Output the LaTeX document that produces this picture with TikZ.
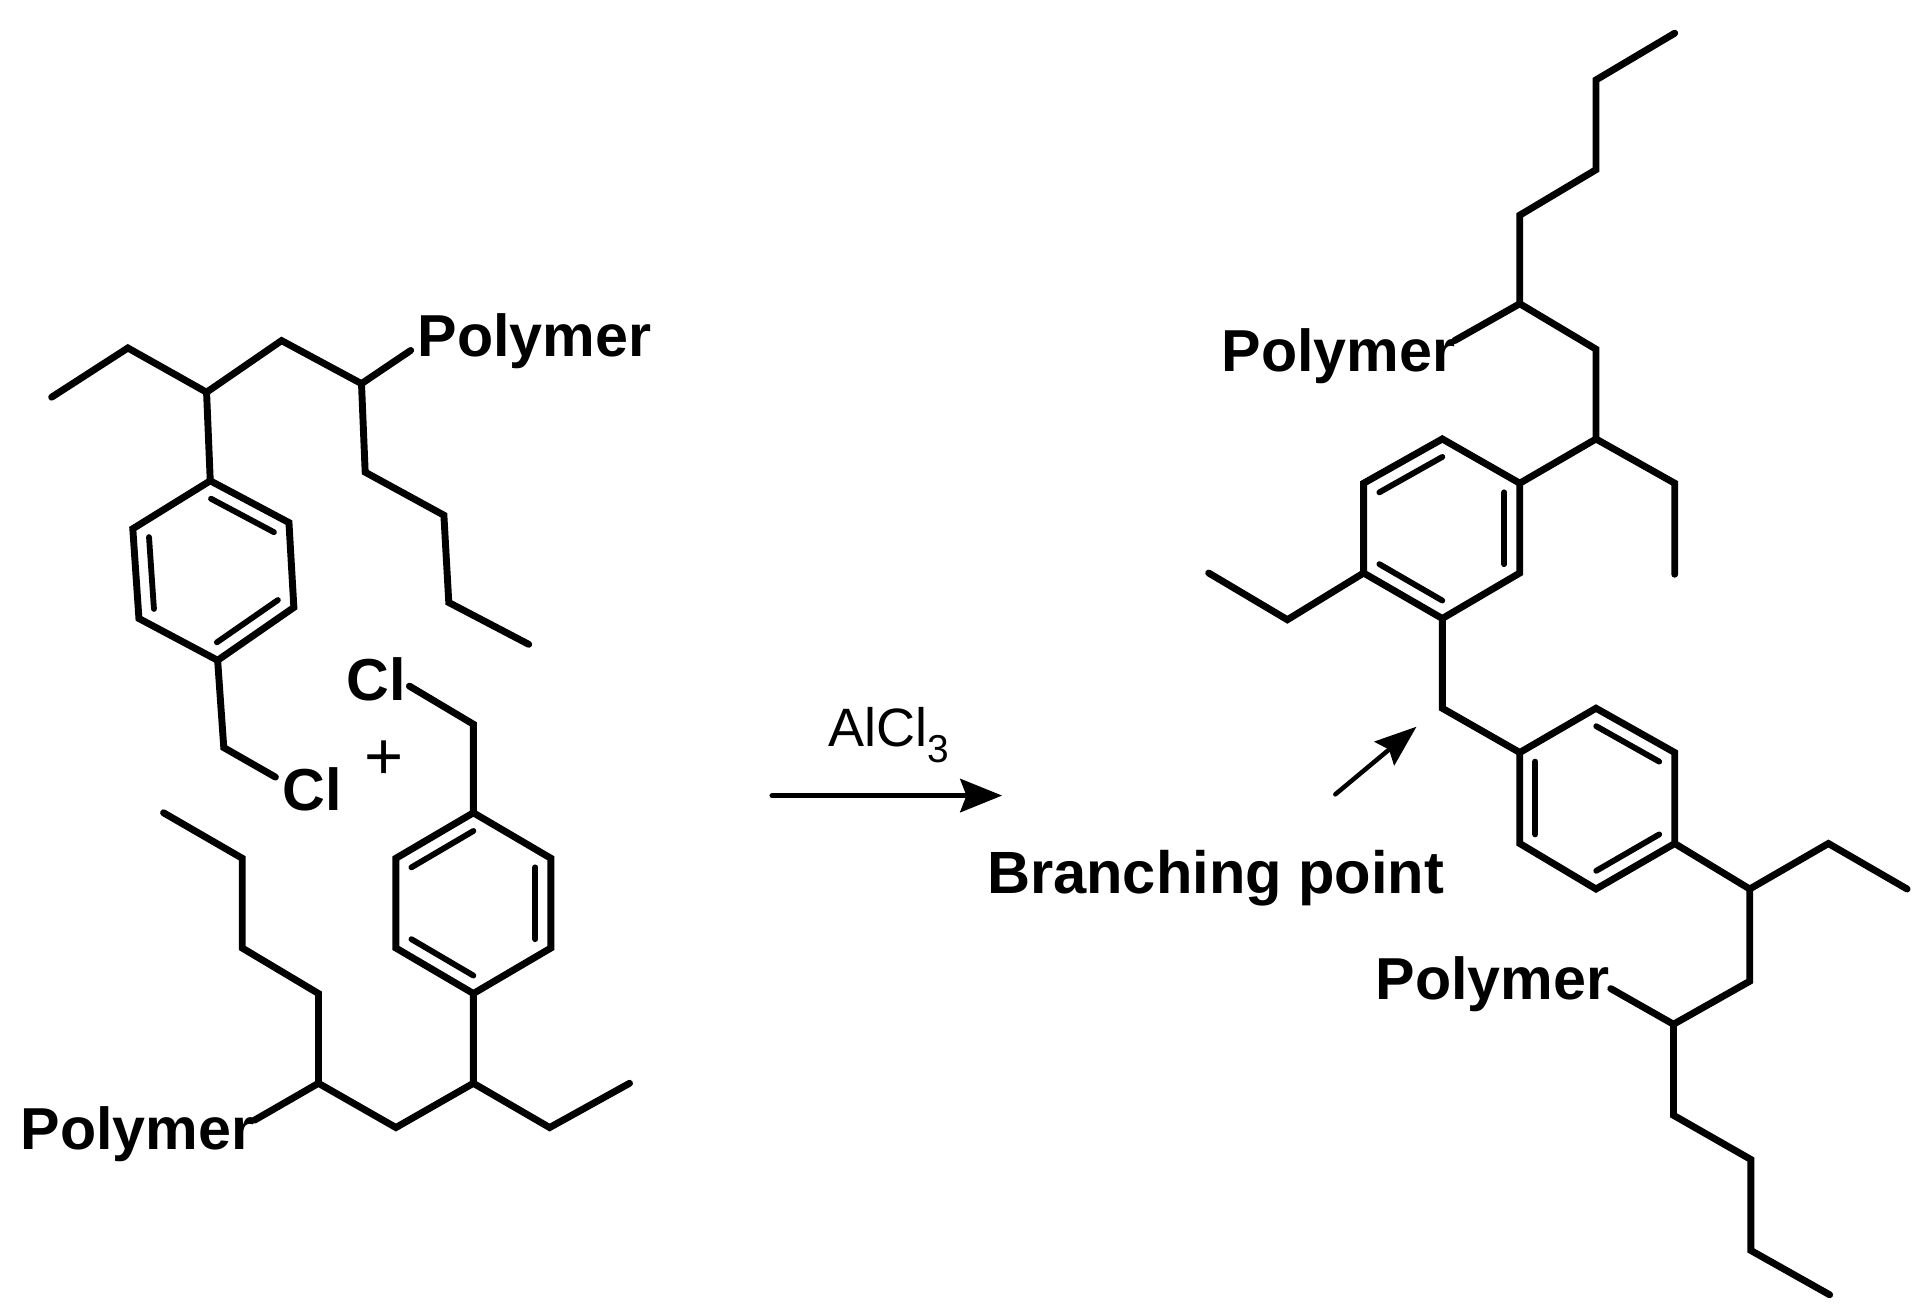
\documentclass[tikz,border=0pt]{standalone}
\usepackage{fontspec}
\setmainfont{Liberation Sans}
\usetikzlibrary{calc,arrows.meta}
\tikzset{
  bond/.style={line width=1.6pt,line cap=round,line join=miter},
  innerbond/.style={line width=1.35pt,line cap=round},
  arrowline/.style={line width=1.25pt,line cap=round,-{Stealth[length=3.4mm,width=2.7mm,inset=0.5mm]}},
  boldtext/.style={anchor=base west,inner sep=0pt,font=\fontsize{13.7}{16}\selectfont\bfseries},
  plaintext/.style={anchor=base west,inner sep=0pt,font=\fontsize{12.5}{15}\selectfont}
}
\begin{document}
\begin{tikzpicture}[x=0.1mm,y=-0.1mm]
  \useasboundingbox (0,0) rectangle (1568,1069);
  % Upper left monomer
  \foreach \n/\x/\y in {a1/42/323,a2/104/283,a3/168/319,a4/229/277,a5/294/312,a6/334/285,
    a7/297/384,a8/361/419,a9/365/490,a10/430/524,
    ar1/171/391,ar2/235/425,ar3/239/494,ar4/177/537,ar5/113/503,ar6/108/430,arc/174/464,
    a11/182/608,a12/224/632}
    \coordinate (\n) at (\x,\y);
  \draw[bond] (a1) -- (a2) -- (a3) -- (a4) -- (a5) -- (a6);
  \draw[bond] (a5) -- (a7) -- (a8) -- (a9) -- (a10);
  \draw[bond] (a3) -- (ar1);
  \draw[bond] (ar1) -- (ar2) -- (ar3) -- (ar4) -- (ar5) -- (ar6) -- cycle;
  \draw[bond] (ar4) -- (a11) -- (a12);
  \node[boldtext] (polyA) at (339,290) {Polymer};
  \node[boldtext] (clA) at (229,659) {Cl};
  \node[plaintext,font=\fontsize{15.5}{18}\selectfont] (plus) at (296,634) {+};
  % Lower left monomer
  \foreach \n/\x/\y in {b1/333/558,b2/385/589,
    br1/385/661,br2/448/698,br3/448/771,br4/385/808,br5/322/771,br6/322/698,brc/385/735,
    b3/385/881,b4/447/917,b5/512/881,b6/322/917,b7/259/881,b8/207/911,
    b9/259/808,b10/197/771,b11/197/698,b12/133/661}
    \coordinate (\n) at (\x,\y);
  \draw[bond] (b1) -- (b2) -- (br1);
  \draw[bond] (br1) -- (br2) -- (br3) -- (br4) -- (br5) -- (br6) -- cycle;
  \draw[bond] (br4) -- (b3) -- (b4) -- (b5);
  \draw[bond] (b3) -- (b6) -- (b7) -- (b8);
  \draw[bond] (b7) -- (b9) -- (b10) -- (b11) -- (b12);
  \node[boldtext] (clB) at (281,570) {Cl};
  \node[boldtext] (polyB) at (16,935) {Polymer};
  % Reaction arrow
  \coordinate (rstart) at (628,647);
  \coordinate (rend) at (815,647);
  \draw[arrowline] (rstart) -- (rend);
  \node[plaintext] (cat) at (673,607) {AlCl\raisebox{-1.3mm}{\fontsize{9}{9}\selectfont 3}};
  % Product
  \foreach \n/\x/\y in {c1/1362/27,c2/1298/65,c3/1298/138,c4/1236/175,c5/1236/247,c6/1183/277,
    c7/1298/284,c8/1298/357,c9/1362/393,c10/1362/467,
    cr1/1236/393,cr2/1236/466,cr3/1173/503,cr4/1109/466,cr5/1109/393,cr6/1173/357,crc/1173/430,
    c11/1047/504,c12/983/466,c13/1173/576,
    dr1/1236/612,dr2/1298/576,dr3/1362/612,dr4/1362/686,dr5/1298/723,dr6/1236/686,drc/1299/649,
    d1/1423/723,d2/1487/686,d3/1551/723,d4/1423/798,d5/1361/833,d6/1310/804,
    d7/1361/907,d8/1424/943,d9/1424/1017,d10/1488/1053}
    \coordinate (\n) at (\x,\y);
  \draw[bond] (c1) -- (c2) -- (c3) -- (c4) -- (c5) -- (c7) -- (c8) -- (cr1);
  \draw[bond] (c5) -- (c6);
  \draw[bond] (c8) -- (c9) -- (c10);
  \draw[bond] (cr1) -- (cr2) -- (cr3) -- (cr4) -- (cr5) -- (cr6) -- cycle;
  \draw[bond] (cr4) -- (c11) -- (c12);
  \draw[bond] (cr3) -- (c13) -- (dr1);
  \draw[bond] (dr1) -- (dr2) -- (dr3) -- (dr4) -- (dr5) -- (dr6) -- cycle;
  \draw[bond] (dr4) -- (d1) -- (d2) -- (d3);
  \draw[bond] (d1) -- (d4) -- (d5) -- (d6);
  \draw[bond] (d5) -- (d7) -- (d8) -- (d9) -- (d10);
  \node[boldtext] (polyC) at (993,302) {Polymer};
  \node[boldtext] (polyD) at (1118,813) {Polymer};
  % Inner lines of the rings
  \foreach \p/\q/\c in {ar1/ar2/arc,ar3/ar4/arc,ar5/ar6/arc,
    br1/br6/brc,br2/br3/brc,br4/br5/brc,
    cr1/cr2/crc,cr3/cr4/crc,cr5/cr6/crc,
    dr2/dr3/drc,dr4/dr5/drc,dr6/dr1/drc}
    \draw[innerbond] ($(\p)!0.2!(\c)$) -- ($(\q)!0.2!(\c)$);
  % Branching point
  \coordinate (bstart) at (1086,646);
  \coordinate (bend) at (1152,591);
  \draw[arrowline,line width=1.05pt,-{Stealth[length=3.4mm,width=2.5mm,inset=0.5mm]}] (bstart) -- (bend);
  \node[boldtext,font=\fontsize{13.8}{17}\selectfont\bfseries] (branch) at (802,727) {Branching point};
\end{tikzpicture}
\end{document}
